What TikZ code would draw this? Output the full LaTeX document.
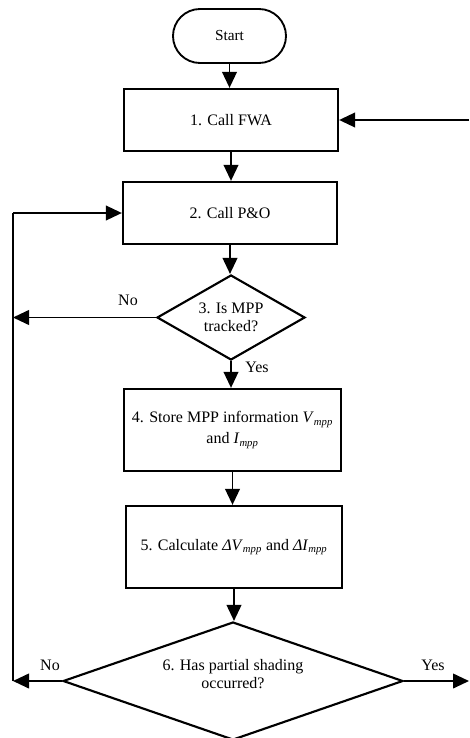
\documentclass[tikz,border=0pt]{standalone}
\usepackage{fontspec}
\setmainfont{Liberation Serif}
\usetikzlibrary{shapes.geometric,shapes.misc,arrows.meta}
\begin{document}
\begin{tikzpicture}[x=0.75pt,y=-0.75pt,
  box/.style={draw,line width=1.7pt,rectangle,inner sep=2pt,align=center,font=\fontsize{12}{15.5}\selectfont},
  term/.style={draw,line width=1.4pt,rounded rectangle,inner sep=0pt,font=\fontsize{11.5}{12}\selectfont},
  dec/.style={draw,line width=1.6pt,diamond,inner sep=0pt,align=center,font=\fontsize{12}{13.5}\selectfont},
  arr/.style={line width=1.4pt,-{Triangle[length=12pt,width=11pt]}},
  lbl/.style={font=\fontsize{12}{14}\selectfont,inner sep=0pt}]
\useasboundingbox (0,0) rectangle (469,738);
\node[term,minimum width=84.75pt,minimum height=40.5pt] (st) at (229.5,36) {Start};
\node[box,minimum width=160.5pt,minimum height=46.5pt] (b1) at (231,120) {1. Call FWA};
\node[box,minimum width=160.5pt,minimum height=46.5pt] (b2) at (230,213) {2. Call P\&O};
\node[dec,aspect=1.74,minimum width=111pt,minimum height=63.75pt] (d3) at (231,317.5) {3. Is MPP\\tracked?};
\node[box,minimum width=162.75pt,minimum height=61.5pt] (b4) at (232.5,430) {4. Store MPP information \textit{V}\textsubscript{\textit{mpp}}\\and \textit{I}\textsubscript{\textit{mpp}}};
\node[box,minimum width=162pt,minimum height=61.5pt] (b5) at (234,547) {5. Calculate \textit{ΔV}\textsubscript{\textit{mpp}} and \textit{ΔI}\textsubscript{\textit{mpp}}};
\node[dec,aspect=2.88,minimum width=255pt,minimum height=88.5pt] (d6) at (233,681) {};
\node[lbl,align=center,font=\fontsize{12}{14}\selectfont] (t6) at (233,674) {6. Has partial shading\\occurred?};
\coordinate (rin) at (469,120);
\coordinate (lb) at (13,681);
\coordinate (lm) at (13,317.5);
\coordinate (rout) at (469,681);
\draw[arr] (st.south) -- (st.south |- b1.north);
\draw[arr] (b1.south) -- (b1.south |- b2.north);
\draw[arr] (b2.south) -- (b2.south |- d3.north);
\draw[arr] (d3.south) -- (d3.south |- b4.north);
\draw[arr] (b4.south) -- (b4.south |- b5.north);
\draw[arr] (b5.south) -- (b5.south |- d6.north);
\draw[arr] (rin) -- (b1.east);
\draw[arr] (d3.west) -- (lm);
\draw[arr] (d6.west) -- (lb);
\draw[line width=1.4pt] (lb) -- (lb |- b2.west);
\draw[arr] (lb |- b2.west) -- (b2.west);
\draw[arr] (d6.east) -- (rout);
\node[lbl] (no1) at (128,300) {No};
\node[lbl] (yes1) at (257,367) {Yes};
\node[lbl] (no2) at (50,665) {No};
\node[lbl] (yes2) at (433,665) {Yes};
\end{tikzpicture}
\end{document}
